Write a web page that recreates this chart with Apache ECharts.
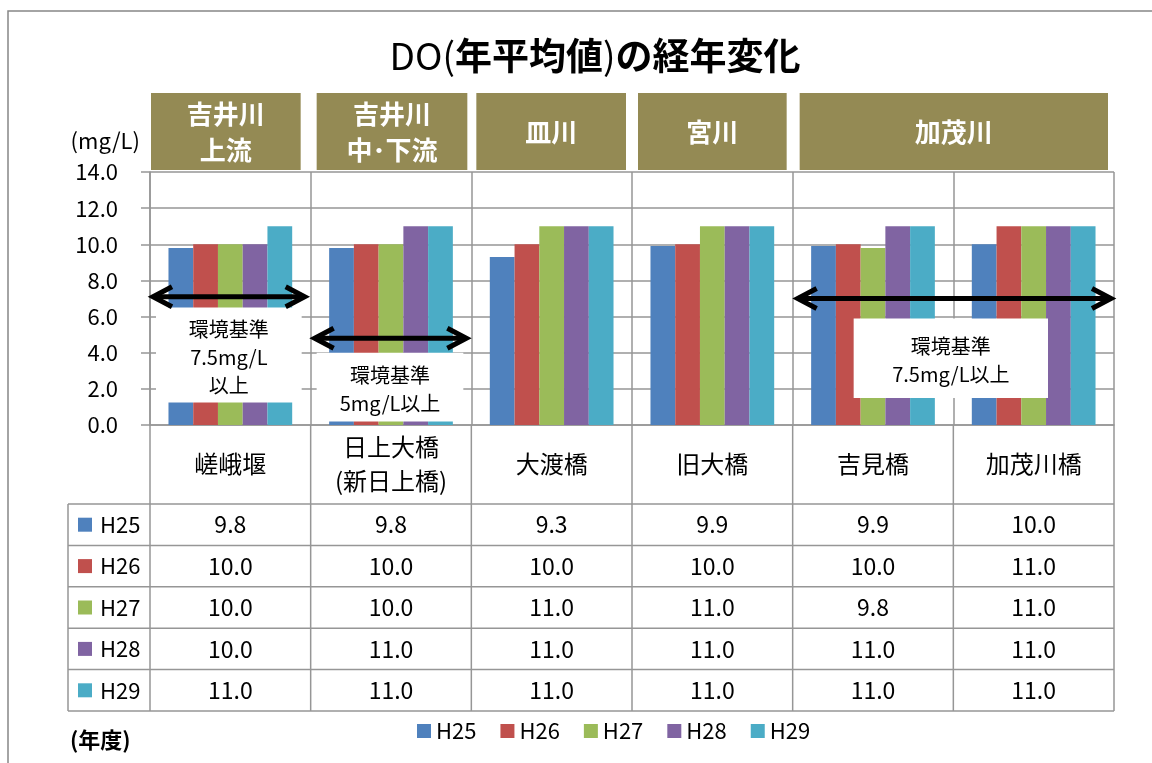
<!DOCTYPE html>
<html>
<head>
<meta charset="utf-8">
<script src="https://cdn.jsdelivr.net/npm/echarts@6/dist/echarts.min.js"></script>
<style>
html, body { margin: 0; padding: 0; background: #fff; }
#chart { width: 1152px; height: 763px; }
</style>
</head>
<body>
<div id="chart"></div>
<script>
// 測定地点（横軸）
const categories = ["嵯峨堰", "日上大橋\n(新日上橋)", "大渡橋", "旧大橋", "吉見橋", "加茂川橋"];
const years = ["H25", "H26", "H27", "H28", "H29"];
// DO 年平均値 (mg/L)
const h25 = [9.8, 9.8, 9.3, 9.9, 9.9, 10.0];
const h26 = [10.0, 10.0, 10.0, 10.0, 10.0, 11.0];
const h27 = [10.0, 10.0, 11.0, 11.0, 9.8, 11.0];
const h28 = [10.0, 11.0, 11.0, 11.0, 11.0, 11.0];
const h29 = [11.0, 11.0, 11.0, 11.0, 11.0, 11.0];
// 河川の見出し
const rivers = ["吉井川\n上流", "吉井川\n中･下流", "皿川", "宮川", "加茂川"];
const riverSpans = [[0, 0], [1, 1], [2, 2], [3, 3], [4, 5]];
// 環境基準の注記
const stdTexts = ["環境基準\n7.5mg/L\n以上", "環境基準\n5mg/L以上", "環境基準\n7.5mg/L以上"];
const stdSpans = [[0, 0], [1, 1], [4, 5]];
const stdArrowLevels = [7.1, 4.8, 7.0];

const FONT = '"Noto Sans CJK JP", "Noto Sans", sans-serif';
const GRID = "#969696";
const colors = ["#4f81bd", "#c0504d", "#9bbb59", "#8064a2", "#4bacc6"];
const seriesData = [h25, h26, h27, h28, h29];

const chart = echarts.init(document.getElementById("chart"));

chart.setOption({
  animation: false,
  textStyle: { fontFamily: FONT },
  title: {
    text: "{n|DO(}{b|年平均値}{n|)}{b|の経年変化}",
    left: 590,
    top: 32,
    textAlign: "center",
    textStyle: {
      rich: {
        n: { fontSize: 37, fontWeight: "normal", color: "#000", fontFamily: FONT },
        b: { fontSize: 37, fontWeight: "bold", color: "#000", fontFamily: FONT },
      },
    },
  },
  legend: {
    left: 412,
    top: 715,
    icon: "rect",
    itemWidth: 14,
    itemHeight: 14,
    itemGap: 24,
    textStyle: { fontSize: 22, color: "#000", fontFamily: FONT },
    data: years,
  },
  grid: { left: 150, right: 38, top: 172, bottom: 338 },
  xAxis: {
    type: "category",
    data: categories,
    axisLine: { lineStyle: { color: GRID, width: 1.5 } },
    axisTick: { show: false },
    splitLine: { show: true, lineStyle: { color: GRID, width: 1.5 } },
    axisLabel: {
      interval: 0,
      margin: 39,
      verticalAlign: "middle",
      fontSize: 24,
      lineHeight: 34,
      color: "#000",
    },
  },
  yAxis: {
    type: "value",
    min: 0,
    max: 14,
    interval: 2,
    axisLine: { show: true, lineStyle: { color: GRID, width: 1.5 } },
    axisTick: { show: true, length: 9, lineStyle: { color: GRID, width: 1.5 } },
    axisLabel: {
      fontSize: 22,
      color: "#000",
      margin: 32,
      formatter: (v) => v.toFixed(1),
    },
    splitLine: { lineStyle: { color: GRID, width: 1.5 } },
  },
  series: years.map((name, i) => ({
    name: name,
    type: "bar",
    data: seriesData[i],
    barGap: "0%",
    barCategoryGap: "23%",
    itemStyle: { color: colors[i] },
  })),
});

// 軸から位置を求めて表・見出し・注記を描く
const xPix = (i) => chart.convertToPixel({ xAxisIndex: 0 }, i);
const yPix = (v) => chart.convertToPixel({ yAxisIndex: 0 }, v);
const bw = xPix(1) - xPix(0);
const bounds = [];
for (let i = 0; i <= categories.length; i++) bounds.push(xPix(0) - bw / 2 + i * bw);

const plotBottom = yPix(0);
const tableLeft = 68;
const labelRowBottom = 504;
const rowH = 41.4;
const tableBottom = labelRowBottom + rowH * years.length;
const tableRight = bounds[bounds.length - 1];

const g = [];
const line = (x1, y1, x2, y2) =>
  g.push({ type: "line", z: 50, shape: { x1, y1, x2, y2 }, style: { stroke: GRID, lineWidth: 1.5 } });

// 外枠
g.push({
  type: "rect", z: 1,
  shape: { x: 8, y: 11, width: 1300, height: 900 },
  style: { fill: null, stroke: "#878787", lineWidth: 1.5 },
});

// 表の罫線
bounds.forEach((x) => line(x, plotBottom, x, tableBottom));
line(tableLeft, labelRowBottom, tableLeft, tableBottom);
for (let r = 0; r <= years.length; r++) {
  const y = labelRowBottom + r * rowH;
  line(tableLeft, y, tableRight, y);
}

// 表の値と凡例
years.forEach((name, r) => {
  const cy = labelRowBottom + r * rowH + rowH / 2;
  g.push({
    type: "rect", z: 60,
    shape: { x: 78, y: cy - 7, width: 14, height: 14 },
    style: { fill: colors[r] },
  });
  g.push({
    type: "text", z: 60, x: 100, y: cy,
    style: { text: name, fontSize: 22, fontFamily: FONT, fill: "#000", verticalAlign: "middle" },
  });
  seriesData[r].forEach((v, c) => {
    g.push({
      type: "text", z: 60, x: xPix(c), y: cy,
      style: {
        text: v.toFixed(1), fontSize: 23, fontFamily: FONT, fill: "#000",
        align: "center", verticalAlign: "middle",
      },
    });
  });
});

// 河川見出し
const headInsets = [[1, 10], [6, 4], [5, 6], [6, 6], [7, 6]];
rivers.forEach((name, i) => {
  const x1 = bounds[riverSpans[i][0]] + headInsets[i][0];
  const x2 = bounds[riverSpans[i][1] + 1] - headInsets[i][1];
  g.push({
    type: "rect", z: 40,
    shape: { x: x1, y: 93, width: x2 - x1, height: 77 },
    style: { fill: "#948a54" },
  });
  g.push({
    type: "text", z: 41, x: (x1 + x2) / 2, y: 132,
    style: {
      text: name, fontSize: 26, fontWeight: "bold", fontFamily: FONT, fill: "#fff",
      align: "center", verticalAlign: "middle", lineHeight: 36,
    },
  });
});

// 環境基準の注記（白枠と両矢印）
const boxX = [[6, 9], [6, 8], [61, 66]];
const boxY = [[6.5, 1.25], [4.0, 0.2], [5.9, 1.5]];
const arrowX = [[1, 4], [2, 3], [3, 1]];
stdTexts.forEach((txt, i) => {
  const bx1 = bounds[stdSpans[i][0]] + boxX[i][0];
  const bx2 = bounds[stdSpans[i][1] + 1] - boxX[i][1];
  const by1 = yPix(boxY[i][0]);
  const by2 = yPix(boxY[i][1]);
  g.push({
    type: "rect", z: 70,
    shape: { x: bx1, y: by1, width: bx2 - bx1, height: by2 - by1 },
    style: { fill: "#fff" },
  });
  g.push({
    type: "text", z: 71, x: (bx1 + bx2) / 2, y: (by1 + by2) / 2 + 2,
    style: {
      text: txt, fontSize: 20, fontFamily: FONT, fill: "#000",
      align: "center", verticalAlign: "middle", lineHeight: 28,
    },
  });
  const ax1 = bounds[stdSpans[i][0]] + arrowX[i][0];
  const ax2 = bounds[stdSpans[i][1] + 1] - arrowX[i][1];
  const ay = yPix(stdArrowLevels[i]);
  const st = { stroke: "#000", lineWidth: 5, fill: null, lineJoin: "miter" };
  g.push({ type: "polyline", z: 72, shape: { points: [[ax1 + 3, ay], [ax2 - 3, ay]] }, style: st });
  g.push({ type: "polyline", z: 72, shape: { points: [[ax1 + 21, ay - 10], [ax1 + 2, ay], [ax1 + 21, ay + 10]] }, style: st });
  g.push({ type: "polyline", z: 72, shape: { points: [[ax2 - 21, ay - 10], [ax2 - 2, ay], [ax2 - 21, ay + 10]] }, style: st });
});

// 単位と年度
g.push({
  type: "text", z: 60, x: 140, y: 141,
  style: { text: "(mg/L)", fontSize: 22, fontFamily: FONT, fill: "#000", align: "right", verticalAlign: "middle" },
});
g.push({
  type: "text", z: 60, x: 70, y: 740,
  style: { text: "(年度)", fontSize: 22, fontWeight: "bold", fontFamily: FONT, fill: "#000", verticalAlign: "middle" },
});

chart.setOption({ graphic: { elements: g } });
</script>
</body>
</html>
